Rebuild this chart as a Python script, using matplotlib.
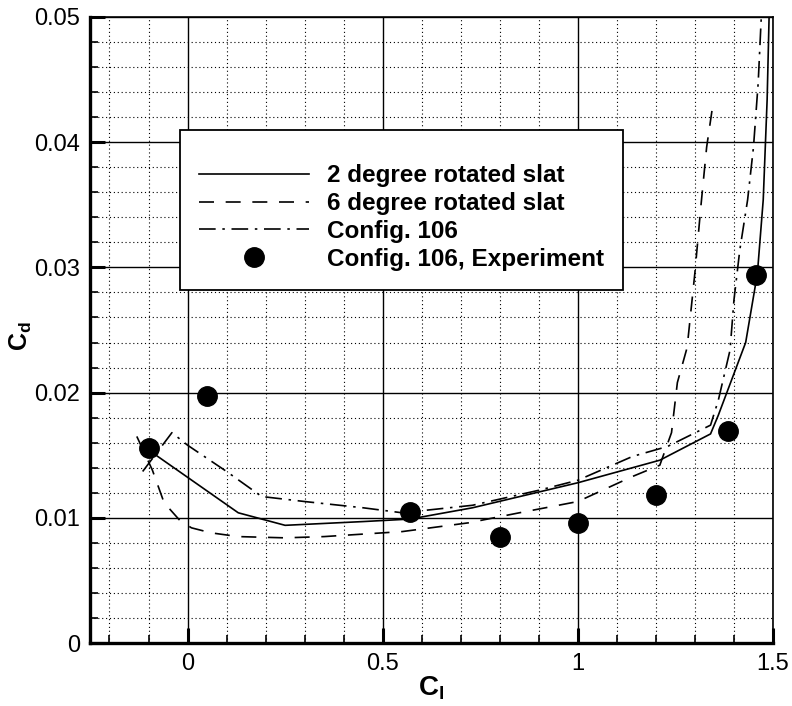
import matplotlib
matplotlib.use("Agg")
import matplotlib.pyplot as plt
from matplotlib.ticker import MultipleLocator

plt.rcParams['font.family'] = ['Liberation Sans', 'DejaVu Sans']
plt.rcParams['mathtext.fontset'] = 'custom'
plt.rcParams['mathtext.rm'] = 'Liberation Sans'
plt.rcParams['mathtext.bf'] = 'Liberation Sans:bold'

# 2 degree rotated slat
cl_2deg = [-0.09, 0.13, 0.25, 0.45, 0.57, 0.73, 1.0, 1.21, 1.34, 1.36,
           1.43, 1.46, 1.475, 1.485, 1.49]
cd_2deg = [0.0152, 0.0104, 0.0094, 0.0097, 0.0099, 0.0108, 0.0128, 0.0146,
           0.0167, 0.0182, 0.0240, 0.0295, 0.0354, 0.0434, 0.0500]

# 6 degree rotated slat
cl_6deg = [-0.13, -0.09, -0.06, -0.02, 0.01, 0.06, 0.13, 0.25, 0.35, 0.45,
           0.55, 0.72, 0.85, 1.0, 1.14, 1.21, 1.24, 1.255, 1.28, 1.30,
           1.315, 1.33, 1.345]
cd_6deg = [0.0165, 0.0138, 0.0112, 0.0098, 0.0092, 0.0088, 0.0085, 0.0084,
           0.0085, 0.0087, 0.0089, 0.0096, 0.0104, 0.0113, 0.0133, 0.0142,
           0.0168, 0.0208, 0.0236, 0.0296, 0.0348, 0.0396, 0.0428]

# Config. 106
cl_106 = [-0.115, -0.04, 0.0, 0.10, 0.19, 0.30, 0.45, 0.55, 0.73, 0.90,
          1.0, 1.14, 1.23, 1.34, 1.36, 1.39, 1.40, 1.415, 1.435, 1.45,
          1.462, 1.47]
cd_106 = [0.0137, 0.0168, 0.0158, 0.0137, 0.0117, 0.0113, 0.0108, 0.0104,
          0.0110, 0.0122, 0.0130, 0.0149, 0.0157, 0.0174, 0.0194, 0.0234,
          0.0274, 0.0314, 0.0354, 0.0396, 0.0447, 0.0500]

# Config. 106, Experiment
cl_exp = [-0.10, 0.05, 0.57, 0.80, 1.0, 1.20, 1.385, 1.457]
cd_exp = [0.0156, 0.0197, 0.0105, 0.0085, 0.0096, 0.0118, 0.0169, 0.0294]

fig = plt.figure(figsize=(7.92, 7.06), dpi=100)
ax = fig.add_axes([0.1136, 0.0892, 0.8624, 0.8868])

ax.plot(cl_2deg, cd_2deg, color='black', lw=1.2, ls='-',
        label='2 degree rotated slat')
ax.plot(cl_6deg, cd_6deg, color='black', lw=1.2, ls=(0, (9, 7)),
        label='6 degree rotated slat')
ax.plot(cl_106, cd_106, color='black', lw=1.2, ls=(0, (10, 4, 1.5, 4)),
        label='Config. 106')
ax.plot(cl_exp, cd_exp, 'o', color='black', ms=14, ls='none',
        label='Config. 106, Experiment')

ax.set_xlim(-0.25, 1.5)
ax.set_ylim(0, 0.05)
ax.xaxis.set_minor_locator(MultipleLocator(0.1))
ax.yaxis.set_minor_locator(MultipleLocator(0.002))
ax.set_xticks([0, 0.5, 1, 1.5])
ax.set_xticklabels(['0', '0.5', '1', '1.5'])
ax.set_yticks([0, 0.01, 0.02, 0.03, 0.04, 0.05])
ax.set_yticklabels(['0', '0.01', '0.02', '0.03', '0.04', '0.05'])

ax.grid(which='major', color='black', lw=1.0, ls='-')
ax.grid(which='minor', color='black', lw=0.8, ls=(0, (1, 2.5)))
ax.set_axisbelow(True)

ax.tick_params(which='both', direction='in', top=False, right=False,
               labelsize=17, pad=7)
ax.tick_params(which='major', length=11, width=2.2)
ax.tick_params(which='minor', length=6, width=1.2)

for side in ['left', 'bottom']:
    ax.spines[side].set_linewidth(2.4)
for side in ['top', 'right']:
    ax.spines[side].set_linewidth(1.2)

ax.set_xlabel(r'$\mathbf{C_l}$', fontsize=20)
ax.set_ylabel(r'$\mathbf{C_d}$', fontsize=18)
ax.xaxis.set_label_coords(0.5, -0.05)
ax.yaxis.set_label_coords(-0.082, 0.49)

leg = ax.legend(loc='upper left', bbox_to_anchor=(0.1318, 0.8195),
                fontsize=17.5, frameon=True, fancybox=False, edgecolor='black',
                framealpha=1, borderpad=0.8, handlelength=4.5,
                handletextpad=0.75, labelspacing=0.2, borderaxespad=0,
                title=' ', title_fontsize=8)
leg.get_frame().set_linewidth(1.3)
for t in leg.get_texts():
    t.set_fontweight('bold')

fig.savefig('out.png', dpi=100)
